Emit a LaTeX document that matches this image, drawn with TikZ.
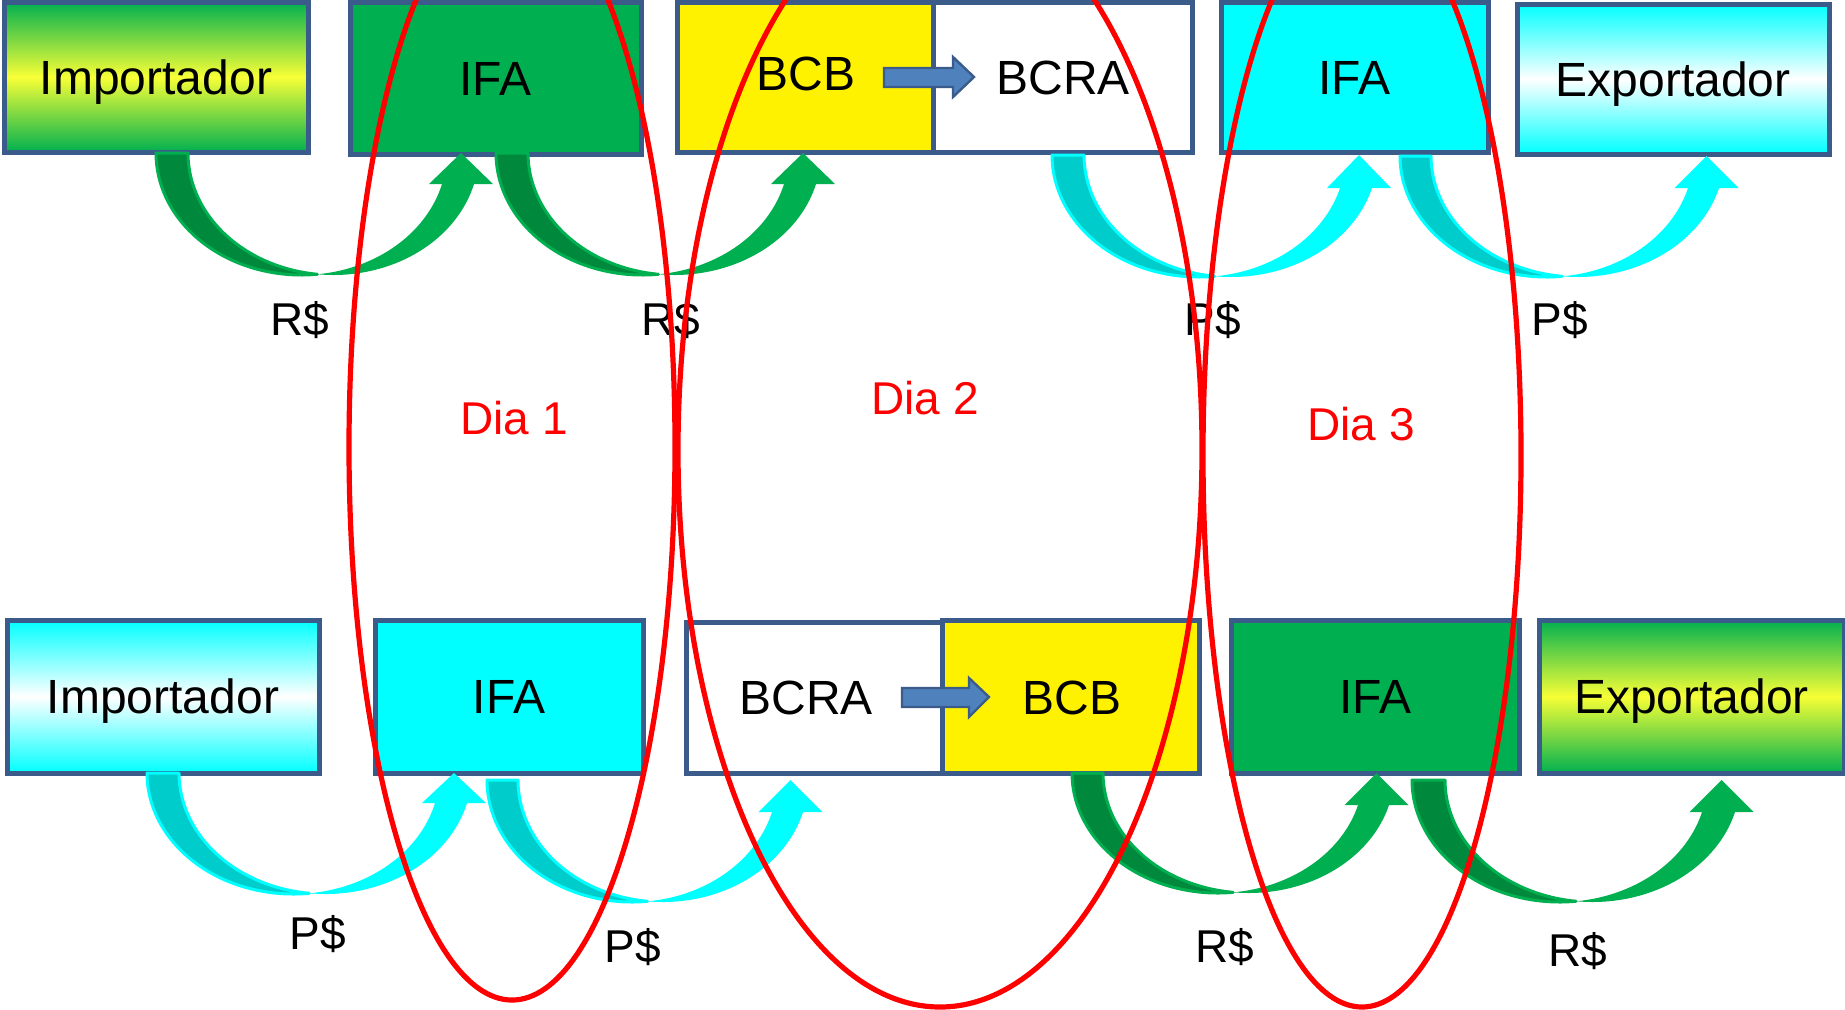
\documentclass[tikz,border=0pt]{standalone}
\usepackage{fontspec}
\setmainfont{Liberation Sans}
\definecolor{pgreen}{HTML}{00B050}
\definecolor{dgreen}{HTML}{00893D}
\definecolor{pyellow}{HTML}{F8FF36}
\definecolor{pcyan}{HTML}{00FFFF}
\definecolor{dcyan}{HTML}{00CCCC}
\definecolor{bord}{HTML}{3B5B8A}
\definecolor{sarrow}{HTML}{4F81BD}
\newcommand{\cuarrow}[8]{%
 \pgfmathsetmacro{\cuTe}{asin(#6/#4)}%
 \pgfmathsetmacro{\cuRx}{(#2-#1)/(1+cos(\cuTe))}%
 \pgfmathsetmacro{\cuCx}{#1+\cuRx}%
 \pgfmathsetmacro{\cuTc}{acos(#5/(2*\cuRx))}%
 \pgfmathsetmacro{\cuTd}{180-\cuTc}%
 \pgfmathsetmacro{\cuXL}{\cuCx+\cuRx*cos(\cuTe)}%
 \pgfmathsetmacro{\cuHC}{\cuXL+#5/2+3}%
 \filldraw[fill=#8, draw=#7, line width=1.5pt, line join=round]
   plot[domain=180:\cuTc, samples=50, variable=\t] ({\cuCx+\cuRx*cos(\t)},{#3+#4*sin(\t)})
   -- plot[domain=\cuTd:180, samples=50, variable=\t] ({\cuCx+#5+\cuRx*cos(\t)},{#3+#4*sin(\t)}) -- cycle;
 \fill[#7]
   plot[domain=\cuTc:\cuTe, samples=50, variable=\t] ({\cuCx+\cuRx*cos(\t)},{#3+#4*sin(\t)})
   -- ({\cuHC-32},{#3+#6}) -- (\cuHC,#3) -- ({\cuHC+32},{#3+#6}) -- ({\cuXL+#5},{#3+#6})
   -- plot[domain=\cuTe:\cuTd, samples=50, variable=\t] ({\cuCx+#5+\cuRx*cos(\t)},{#3+#4*sin(\t)}) -- cycle;
}
\newcommand{\bx}[7]{%
 \node[box,#6, minimum width={(#4-#2)*0.5pt}, minimum height={(#5-#3)*0.5pt}] (#1) at ({(#2+#4)/2},{(#3+#5)/2}) {#7};
}
\begin{document}
\begin{tikzpicture}[x=0.5pt,y=-0.5pt,
  box/.style={draw=bord, line width=2.5pt, rectangle, inner sep=0pt, outer sep=0pt, font=\fontsize{24}{28}\selectfont, text height=17.2pt, text depth=0pt},
  gy/.style={top color=pgreen, bottom color=pgreen, middle color=pyellow},
  cw/.style={top color=pcyan, bottom color=pcyan, middle color=white},
  lbl/.style={font=\fontsize{23}{27}\selectfont, inner sep=0pt},
  dia/.style={font=\fontsize{23}{27}\selectfont, text=red, inner sep=0pt, text height=16.5pt, text depth=0pt},
  oval/.style={draw=red, line width=2.6pt},
  small/.style={fill=sarrow, draw=bord, line width=1.2pt, line join=miter}]
\useasboundingbox (0,0) rectangle (1845,1009);
\fill[white] (0,0) rectangle (1845,1009);
% top row
\bx{impT}{4}{2}{308}{152}{gy}{Importador}
\bx{ifaT1}{350}{2}{641}{154}{fill=pgreen}{IFA}
\bx{bcbT}{677}{2}{933}{152}{fill=yellow}{}
\bx{bcraT}{933}{2}{1192}{152}{fill=white}{}
\node[box, draw=none, fill=none] (bcbTt) at (806,73) {BCB};
\node[box, draw=none, fill=none] (bcraTt) at (1063,77) {BCRA};
\bx{ifaT2}{1221}{2}{1488}{152}{fill=pcyan}{IFA}
\bx{expT}{1517}{4}{1829}{154}{cw}{Exportador}
\draw[small] (884,68) -- (953,68) -- (953,57) -- (974,77) -- (953,97) -- (953,87) -- (884,87) -- cycle;
% bottom row
\bx{impB}{7}{620}{319}{773}{cw}{Importador}
\bx{ifaB1}{375}{620}{643}{773}{fill=pcyan}{IFA}
\bx{bcraB}{686}{622}{942}{773}{fill=white}{}
\bx{bcbB}{942}{620}{1199}{773}{fill=yellow}{}
\node[box, draw=none, fill=none] (bcraBt) at (806,697) {BCRA};
\node[box, draw=none, fill=none] (bcbBt) at (1072,697) {BCB};
\bx{ifaB2}{1231}{620}{1519}{773}{fill=pgreen}{IFA}
\bx{expB}{1539}{620}{1844}{773}{gy}{Exportador}
\draw[small] (902,688) -- (969,688) -- (969,678) -- (989,697) -- (969,717) -- (969,707) -- (902,707) -- cycle;
% curved arrows top
\cuarrow{156}{442}{153}{122}{32}{31}{pgreen}{dgreen}
\cuarrow{496}{784}{153}{122}{32}{31}{pgreen}{dgreen}
\cuarrow{1052}{1340}{155}{122}{32}{33}{pcyan}{dcyan}
\cuarrow{1400}{1688}{156}{121}{31}{32}{pcyan}{dcyan}
% curved arrows bottom
\cuarrow{147}{435}{773}{121}{32}{30}{pcyan}{dcyan}
\cuarrow{487}{772}{780}{122}{31}{32}{pcyan}{dcyan}
\cuarrow{1072}{1358}{773}{120}{31}{32}{pgreen}{dgreen}
\cuarrow{1412}{1702}{780}{122}{33}{32}{pgreen}{dgreen}
% labels
\node[lbl] (l1) at (300,320) {R\$};
\node[lbl] (l2) at (671,320) {R\$};
\node[lbl] (l3) at (1213,320) {P\$};
\node[lbl] (l4) at (1560,320) {P\$};
\node[lbl] (l5) at (318,934) {P\$};
\node[lbl] (l6) at (633,947) {P\$};
\node[lbl] (l7) at (1225,947) {R\$};
\node[lbl] (l8) at (1578,951) {R\$};
\node[dia] (d1) at (514,418) {Dia 1};
\node[dia] (d2) at (925,398) {Dia 2};
\node[dia] (d3) at (1361,424) {Dia 3};
% ovals
\draw[oval] (512,447) ellipse [x radius=81.5pt, y radius=276.5pt];
\draw[oval] (940,450) ellipse [x radius=131pt, y radius=278.5pt];
\draw[oval] (1362,455) ellipse [x radius=79.5pt, y radius=276pt];
\end{tikzpicture}
\end{document}
